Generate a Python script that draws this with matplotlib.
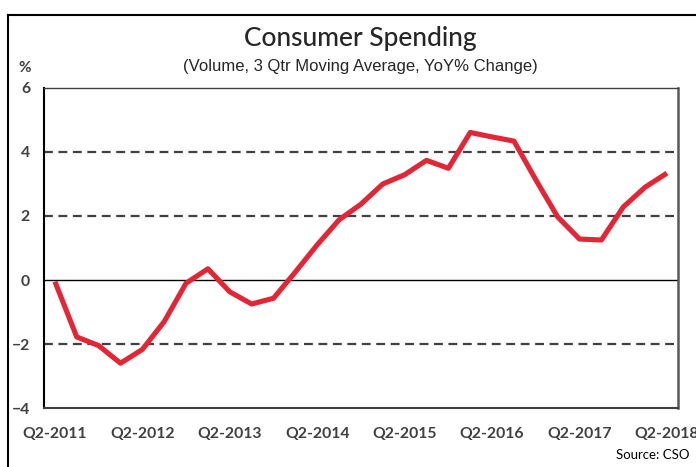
import matplotlib.pyplot as plt
from matplotlib.lines import Line2D

# Quarterly data Q2-2011 .. Q2-2018 (29 quarters)
quarters = list(range(29))
spending = [-0.05, -1.78, -2.05, -2.6, -2.17, -1.3, -0.1, 0.35, -0.37, -0.75,
            -0.57, 0.25, 1.1, 1.88, 2.37, 3.0, 3.29, 3.74, 3.49, 4.61,
            4.47, 4.34, 3.13, 1.97, 1.28, 1.25, 2.28, 2.9, 3.34]
tick_pos = [0, 4, 8, 12, 16, 20, 24, 28]
tick_labels = ['Q2-2011', 'Q2-2012', 'Q2-2013', 'Q2-2014', 'Q2-2015',
               'Q2-2016', 'Q2-2017', 'Q2-2018']
y_ticks = [-4, -2, 0, 2, 4, 6]

plt.rcParams['font.family'] = ['Lato', 'DejaVu Sans']

fig = plt.figure(figsize=(6.96, 4.67), dpi=100)
ax = fig.add_axes([0.0632, 0.1263, 0.9108, 0.6853])

ax.plot(quarters, spending, color='#e32636', linewidth=3.7, solid_joinstyle='round',
        solid_capstyle='butt', zorder=3)

for yv in [4, 2, -2]:
    ax.axhline(yv, color='#404040', linewidth=1.6, linestyle=(0, (4, 2.5)), zorder=1)
ax.axhline(0, color='black', linewidth=1.0, zorder=2)

ax.set_xlim(-0.5, 28.5)
ax.set_ylim(-4, 6)
ax.set_xticks(tick_pos)
ax.set_xticklabels(tick_labels)
ax.set_yticks(y_ticks)
ax.tick_params(length=0, labelsize=11.3, labelcolor='#404040')
ax.tick_params(axis='x', pad=14)
ax.tick_params(axis='y', pad=10)
for lbl in ax.get_xticklabels() + ax.get_yticklabels():
    lbl.set_fontweight('bold')

ax.spines['left'].set_color('black')
ax.spines['left'].set_linewidth(1.5)
ax.spines['bottom'].set_color('#404040')
ax.spines['bottom'].set_linewidth(1.5)
ax.spines['top'].set_color('#404040')
ax.spines['top'].set_linewidth(1.0)
ax.spines['right'].set_color('#595959')
ax.spines['right'].set_linewidth(1.8)

fig.text(0.518, 0.918, 'Consumer Spending', ha='center', va='center',
         fontsize=19, color='#262626', fontweight='medium')
fig.text(0.518, 0.857, '(Volume, 3 Qtr Moving Average, YoY% Change)', ha='center',
         va='center', fontsize=12, color='#262626', family=['Liberation Sans'])
fig.text(0.036, 0.855, '%', ha='center', va='center', fontsize=11,
         fontweight='bold', color='#404040')
fig.text(0.99, 0.025, 'Source: CSO', ha='right', va='center', fontsize=9.5,
         color='black')

# outer chart frame (partly cropped)
fig.add_artist(Line2D([0.0115, 0.0115], [0, 0.968], color='black', linewidth=1.5,
                      transform=fig.transFigure))
fig.add_artist(Line2D([0.0115, 1.0], [0.968, 0.968], color='black', linewidth=1.5,
                      transform=fig.transFigure))

fig.savefig('out.png', dpi=100)
